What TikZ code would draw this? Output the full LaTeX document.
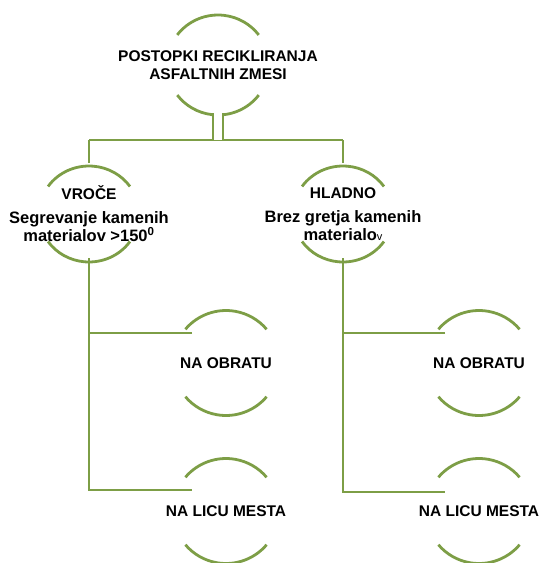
\documentclass[tikz,border=0pt]{standalone}
\usepackage{fontspec}
\setmainfont{Liberation Sans}
\usetikzlibrary{calc}
\definecolor{olivegr}{RGB}{125,158,70}
\newcommand\hubarcs[4]{%
  \draw[arcl] (#1.center) ++({180+#4}:{#2} and {#3}) arc[start angle={180+#4}, end angle={360-#4}, x radius=#2, y radius=#3];
  \draw[arcl] (#1.center) ++(#4:{#2} and {#3}) arc[start angle=#4, end angle={180-#4}, x radius=#2, y radius=#3];}
\newcommand\subtxt{\fontsize{16.5}{18}\selectfont}
\begin{document}
\begin{tikzpicture}[x=1pt,y=-1pt,
  lbl/.style={font=\bfseries\fontsize{15.5}{18}\selectfont, align=center, text=black, inner sep=0pt},
  arcl/.style={draw=olivegr, line width=2.8pt},
  conn/.style={draw=olivegr, line width=2.8pt},
  dbl/.style={draw=olivegr, line width=2.4pt, double=white, double distance=7.5pt}]
\useasboundingbox (0,0) rectangle (539,563);
% nodes
\node[lbl] (root) at (218,65) {POSTOPKI RECIKLIRANJA\\ASFALTNIH ZMESI};
\node[lbl] (vroce) at (89,214) {VROČE\\[6pt]{\subtxt Segrevanje kamenih}\\{\subtxt materialov >150\textsuperscript{0}}};
\node[lbl] (hladno) at (343,214) {HLADNO\\[6pt]{\subtxt Brez gretja kamenih}\\{\subtxt materialo{\mdseries\fontsize{11}{11}\selectfont v}}};
\node[lbl] (lobr) at (226,363) {NA OBRATU};
\node[lbl] (lmes) at (226,511) {NA LICU MESTA};
\node[lbl] (robr) at (479,363) {NA OBRATU};
\node[lbl] (rmes) at (479,511) {NA LICU MESTA};
% arcs
\hubarcs{root}{51}{50}{37}
\hubarcs{vroce}{50}{48}{35}
\hubarcs{hladno}{50}{48}{35}
\hubarcs{lobr}{53}{52.5}{40}
\hubarcs{lmes}{53}{52.5}{40}
\hubarcs{robr}{53}{52.5}{40}
\hubarcs{rmes}{53}{52.5}{40}
% connectors
\coordinate (busL) at (89,140);
\coordinate (busR) at (343,140);
\coordinate (lo) at (192,333);
\coordinate (lm) at (192,490);
\coordinate (ro) at (445,333);
\coordinate (rm) at (445,492);
\draw[conn] (busL) -- (busR);
\draw[dbl] ($(root.center)+(0,48)$) -- (root.center |- busL);
\draw[conn] ($(vroce.center)+(0,-51)$) -- (busL);
\draw[conn] ($(hladno.center)+(0,-51)$) -- (busR);
\draw[conn] ($(vroce.center)+(0,44)$) |- (lm);
\draw[conn] (lo) -- (lo -| vroce.center);
\draw[conn] ($(hladno.center)+(0,44)$) |- (rm);
\draw[conn] (ro) -- (ro -| hladno.center);
\end{tikzpicture}
\end{document}
